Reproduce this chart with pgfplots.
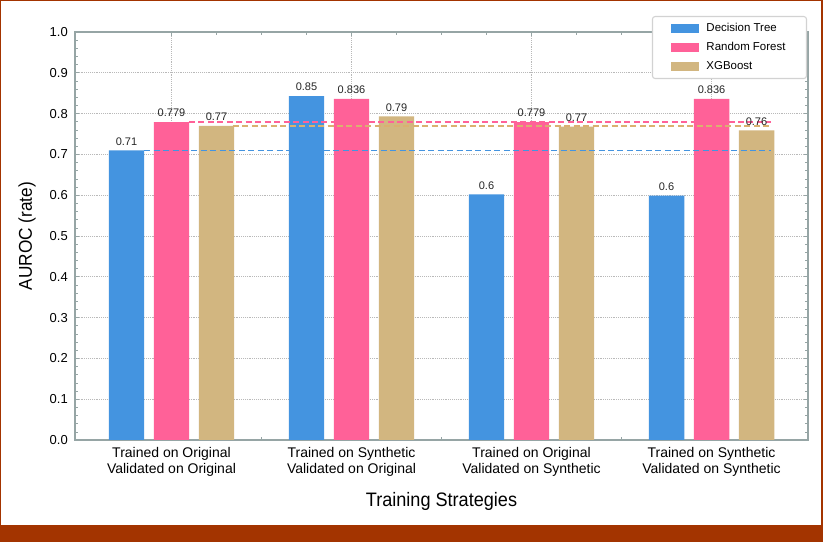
\documentclass[border=0pt]{standalone}
\usepackage{pgfplots}
\pgfplotsset{compat=1.18}
\usepackage{pgfplotstable}
\usepackage{fontspec}
\setmainfont{Liberation Sans}
\newfontfamily\condfont{Liberation Sans}[FakeStretch=0.93]
\definecolor{dtblue}{RGB}{68,148,224}
\definecolor{rfpink}{RGB}{255,97,152}
\definecolor{xgtan}{RGB}{210,182,128}
\definecolor{xgdash}{RGB}{218,176,112}
\definecolor{frameorange}{RGB}{163,52,0}
\definecolor{spine}{RGB}{150,165,165}

\pgfplotstableread{
x y label
-0.25 0.710 0.71
0.75 0.843 0.85
1.75 0.602 0.6
2.75 0.599 0.6
}\dtdata
\pgfplotstableread{
x y label
0 0.779 0.779
1 0.836 0.836
2 0.779 0.779
3 0.836 0.836
}\rfdata
\pgfplotstableread{
x y label
0.25 0.770 0.77
1.25 0.793 0.79
2.25 0.768 0.77
3.25 0.759 0.76
}\xgdata

\begin{document}
\begin{tikzpicture}
\useasboundingbox (0,0) rectangle (617.25pt,406.5pt);
\fill[frameorange] (0,0) rectangle (617.25pt,406.5pt);
\fill[white] (1.1pt,12.75pt) rectangle (615.6pt,405.75pt);
\begin{axis}[
  at={(56.25pt,76.5pt)}, anchor=south west,
  scale only axis, width=549.75pt, height=306pt,
  xmin=-0.536, xmax=3.536, ymin=0, ymax=1,
  xtick={0,1,2,3},
  xticklabels={{Trained on Original\\Validated on Original},
               {Trained on Synthetic\\Validated on Original},
               {Trained on Original\\Validated on Synthetic},
               {Trained on Synthetic\\Validated on Synthetic}},
  ytick={0,0.1,...,1.0},
  minor y tick num=4,
  minor x tick num=3,
  yticklabel style={/pgf/number format/.cd, fixed, fixed zerofill, precision=1, /tikz/.cd,
     font=\fontsize{9.75pt}{11pt}\selectfont, anchor=east, inner sep=0pt, xshift=-5.25pt},
  xticklabel style={font=\fontsize{10.5pt}{11.6pt}\selectfont, align=center, anchor=north, inner sep=0pt, yshift=-5.5pt},
  /pgf/number format/assume math mode=true,
  tick align=inside,
  major tick length=3pt, minor tick length=2pt,
  tick style={spine, line width=0.5pt},
  axis line style={spine, line width=0.8pt},
  grid=major,
  grid style={densely dotted, gray!55, line width=0.5pt},
  xlabel={Training Strategies},
  ylabel={AUROC (rate)},
  xlabel style={at={(axis description cs:0.5,-0.164)}, anchor=base, font=\condfont\fontsize{14.6pt}{16pt}\selectfont},
  ylabel style={at={(axis description cs:-0.0587,0.5)}, anchor=base, font=\condfont\fontsize{13.9pt}{16pt}\selectfont},
  bar width=26.6pt,
  legend style={at={(axis description cs:1,1)}, anchor=north east, xshift=-0.75pt, yshift=12pt,
     draw=gray!35, line width=0.8pt, rounded corners=2pt,
     font=\fontsize{8.6pt}{10pt}\selectfont,
     inner xsep=14.25pt, inner ysep=3.75pt, row sep=3.75pt, column sep=5.25pt,
     nodes={inner sep=0pt, text height=7.5pt, text depth=3pt},
     cells={anchor=west}},
]
\addplot[ybar, bar shift=0pt, fill=dtblue, draw=none,
  point meta=explicit symbolic, nodes near coords,
  every node near coord/.append style={font=\fontsize{8.25pt}{9pt}\selectfont, anchor=south, inner sep=0pt, yshift=3.6pt, text=black!85},
  legend image code/.code={\fill[dtblue, sharp corners] (0pt,-3.56pt) rectangle (21pt,3.56pt);}]
  table[x=x, y=y, meta=label] {\dtdata};
\addlegendentry{\makebox[60.75pt][l]{Decision Tree}}
\addplot[ybar, bar shift=0pt, fill=rfpink, draw=none,
  point meta=explicit symbolic, nodes near coords,
  every node near coord/.append style={font=\fontsize{8.25pt}{9pt}\selectfont, anchor=south, inner sep=0pt, yshift=3.6pt, text=black!85},
  legend image code/.code={\fill[rfpink, sharp corners] (0pt,-3.56pt) rectangle (21pt,3.56pt);}]
  table[x=x, y=y, meta=label] {\rfdata};
\addlegendentry{\makebox[60.75pt][l]{Random Forest}}
\addplot[ybar, bar shift=0pt, fill=xgtan, draw=none,
  point meta=explicit symbolic, nodes near coords,
  every node near coord/.append style={font=\fontsize{8.25pt}{9pt}\selectfont, anchor=south, inner sep=0pt, yshift=3.6pt, text=black!85},
  legend image code/.code={\fill[xgtan, sharp corners] (0pt,-3.56pt) rectangle (21pt,3.56pt);}]
  table[x=x, y=y, meta=label] {\xgdata};
\addlegendentry{\makebox[60.75pt][l]{XGBoost}}
\addplot[forget plot, dtblue, line width=1pt, dash pattern=on 4.5pt off 2.6pt] coordinates {(-0.152,0.71) (3.332,0.71)};
\addplot[forget plot, rfpink, line width=1pt, dash pattern=on 4.5pt off 2.6pt] coordinates {(0.097,0.779) (3.332,0.779)};
\addplot[forget plot, xgdash, line width=1pt, dash pattern=on 4.5pt off 2.6pt] coordinates {(0.341,0.77) (3.332,0.77)};
\end{axis}
\end{tikzpicture}
\end{document}
